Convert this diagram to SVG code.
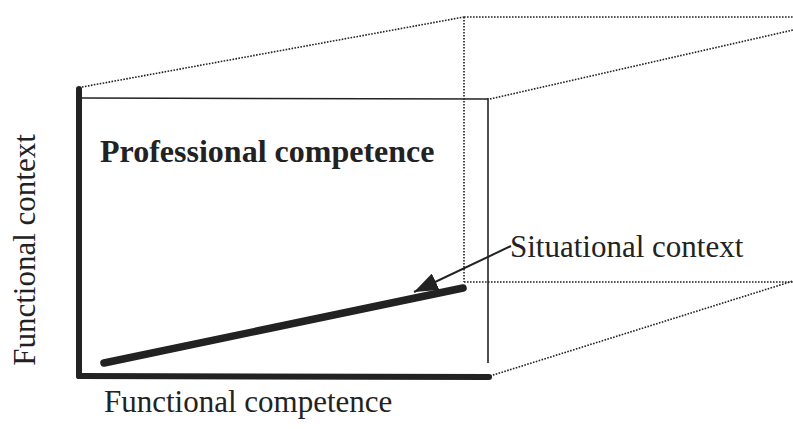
<svg xmlns="http://www.w3.org/2000/svg" width="793" height="429" viewBox="0 0 793 429">
<style>
.dot{fill:none;stroke:#222;stroke-width:1.6;stroke-dasharray:1.6 1.4}
.thin{fill:none;stroke:#222;stroke-width:1.6}
.thick{fill:none;stroke:#222;stroke-width:6;stroke-linecap:round}
.t{font-family:"Liberation Serif","Times New Roman",serif;font-size:31px;fill:#222}
</style>
<defs>
<marker id="ah2" viewBox="0 0 24 18" refX="24" refY="9" markerWidth="24" markerHeight="18" orient="auto" markerUnits="userSpaceOnUse">
<path d="M0,0 L24,9 L0,18 Z" fill="#222"/>
</marker>
</defs>
<g id="box">
<line class="dot" x1="82" y1="87" x2="464" y2="17"/>
<line class="dot" x1="464" y1="17" x2="793" y2="17"/>
<line class="dot" x1="464" y1="17" x2="464" y2="282"/>
<line class="dot" x1="464" y1="282" x2="793" y2="282"/>
<line class="dot" x1="490" y1="99" x2="793" y2="30"/>
<line class="dot" x1="490" y1="376" x2="793" y2="281"/>
<line class="thin" x1="80" y1="98" x2="488" y2="99"/>
<line class="thin" x1="488" y1="98" x2="488" y2="363"/>
<line class="thick" x1="79" y1="89" x2="79" y2="376"/>
<line class="thick" x1="79" y1="376" x2="489" y2="377"/>
</g>
<g id="professional">
<text class="t" x="100" y="162" font-weight="bold" style="font-size:32px">Professional competence</text>
</g>
<g id="situational-line">
<line x1="104" y1="363" x2="463" y2="288" stroke="#222" stroke-width="7.5" stroke-linecap="round"/>
</g>
<g id="labels">
<text class="t" x="510" y="257">Situational context</text>
<text class="t" x="104" y="412">Functional competence</text>
<text class="t" transform="translate(35,250) rotate(-90)" text-anchor="middle">Functional context</text>
</g>
<g id="connectors">
<line x1="511" y1="246" x2="414" y2="292" stroke="#222" stroke-width="2" marker-end="url(#ah2)"/>
</g>
</svg>
